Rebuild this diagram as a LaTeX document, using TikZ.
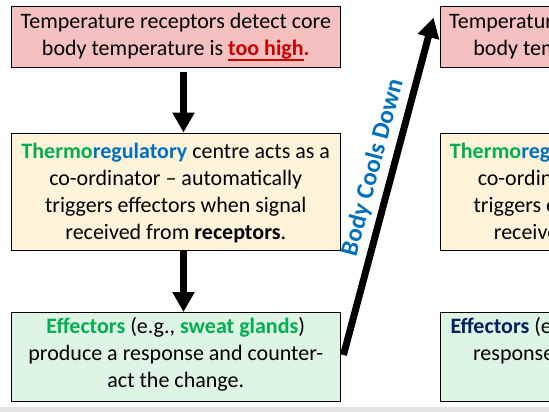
\documentclass[tikz,border=0pt]{standalone}
\usepackage{fontspec}
\setmainfont{Carlito}
\usetikzlibrary{arrows.meta}
\definecolor{pinkfill}{RGB}{244,192,192}
\definecolor{creamfill}{RGB}{255,243,218}
\definecolor{mintfill}{RGB}{222,244,229}
\definecolor{tgreen}{RGB}{0,176,80}
\definecolor{tblue}{RGB}{0,112,192}
\definecolor{tred}{RGB}{204,0,0}
\definecolor{tnavy}{RGB}{0,32,96}
\definecolor{edgegray}{RGB}{228,228,228}
\newcommand{\myuline}[1]{\setbox0\hbox{#1}\rlap{\vrule height -3.6pt depth 5.6pt width \wd0}\box0}
\begin{document}
\begin{tikzpicture}[x=1pt,y=1pt,
  box/.style={draw=black, line width=0.9pt, minimum width=328.5pt, inner sep=0pt},
  txt/.style={align=center, font=\fontsize{22}{27}\selectfont, inner sep=0pt, text=black},
  bigarrow/.style={line width=7pt, -{Triangle[length=20pt,width=21pt]}},
  cools/.style={font=\fontsize{25}{29}\selectfont\bfseries, text=tblue, inner sep=0pt}
]
\useasboundingbox (0,0) rectangle (549,412);
\clip (0,0) rectangle (549,412);
\fill[white] (0,0) rectangle (549,412);
\fill[edgegray] (0,0) rectangle (549,5);

% left column
\node[box, fill=pinkfill, minimum height=60.5pt] (b1) at (175.75,375.25) {};
\node[box, fill=creamfill, minimum height=117.5pt] (b2) at (175.75,220.25) {};
\node[box, fill=mintfill, minimum height=89pt] (b3) at (175.75,55) {};

\node[txt] (t1) at (175.75,374.5) {Temperature receptors detect core\\ body temperature is \textcolor{tred}{\textbf{\myuline{too high}.}}};
\node[txt] (t2) at (175.75,219) {\textcolor{tgreen}{\textbf{Thermo}}\textcolor{tblue}{\textbf{regulatory}} centre acts as a\\ co-ordinator – automatically\\ triggers effectors when signal\\ received from \textbf{receptors}.};
\node[txt] (t3) at (175.75,58) {\textcolor{tgreen}{\textbf{Effectors}} (e.g., \textcolor{tgreen}{\textbf{sweat glands}})\\ produce a response and counter-\\ act the change.};

% right column (cut by the picture edge)
\node[box, fill=pinkfill, minimum height=60.5pt] (r1) at (604.25,375.25) {};
\node[box, fill=creamfill, minimum height=117.5pt] (r2) at (604.25,220.25) {};
\node[box, fill=mintfill, minimum height=89pt] (r3) at (604.25,55) {};

\node[txt] (s1) at (604.25,374.5) {Temperature receptors detect core\\ body temperature is \textcolor{tblue}{\textbf{\myuline{too low}.}}};
\node[txt] (s2) at (604.25,219) {\textcolor{tgreen}{\textbf{Thermo}}\textcolor{tblue}{\textbf{regulatory}} centre acts as a\\ co-ordinator – automatically\\ triggers effectors when signal\\ received from \textbf{receptors}.};
\node[txt] (s3) at (604.25,58) {\textcolor{tnavy}{\textbf{Effectors}} (e.g., \textcolor{tnavy}{\textbf{muscles}}) produce a\\ response and counter-act the\\ change.};

% connectors
\draw[bigarrow] ([xshift=7.75pt,yshift=-5pt]b1.south) -- ([xshift=7.75pt]b2.north);
\draw[bigarrow] ([xshift=7.75pt]b2.south) -- ([xshift=7.75pt]b3.north);

\coordinate (upstart) at ([xshift=3pt,yshift=2pt]b3.east);
\coordinate (upend) at ([xshift=-6pt,yshift=-11.5pt]r1.north west);
\draw[bigarrow] (upstart) -- node[cools, pos=0.54, sloped, above=5.5pt] (lbl) {Body Cools Down} (upend);
\end{tikzpicture}
\end{document}
